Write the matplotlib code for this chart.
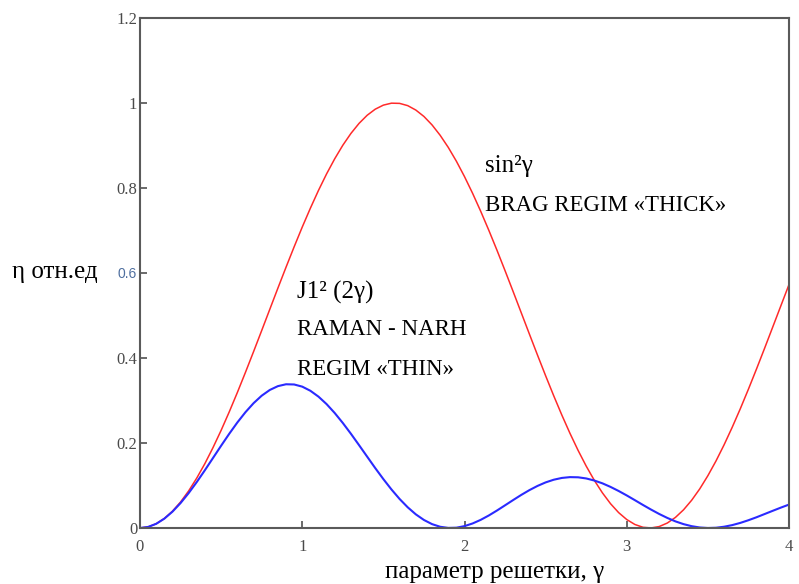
import matplotlib
matplotlib.use("Agg")
import matplotlib.pyplot as plt

# параметр решетки (gamma), шаг 0.05
gamma = [i * 0.05 for i in range(81)]

# sin^2(gamma) - Bragg regime
eta_bragg = [0.0000, 0.0025, 0.0100, 0.0223, 0.0395, 0.0612, 0.0873, 0.1176, 0.1516, 0.1892,
             0.2298, 0.2732, 0.3188, 0.3663, 0.4150, 0.4646, 0.5146, 0.5645, 0.6136, 0.6616,
             0.7081, 0.7524, 0.7943, 0.8332, 0.8687, 0.9006, 0.9284, 0.9520, 0.9711, 0.9855,
             0.9950, 0.9996, 0.9991, 0.9938, 0.9834, 0.9683, 0.9484, 0.9240, 0.8955, 0.8630,
             0.8268, 0.7874, 0.7451, 0.7004, 0.6537, 0.6054, 0.5561, 0.5062, 0.4563, 0.4068,
             0.3582, 0.3110, 0.2657, 0.2228, 0.1827, 0.1457, 0.1122, 0.0827, 0.0572, 0.0362,
             0.0199, 0.0083, 0.0017, 0.0001, 0.0034, 0.0117, 0.0249, 0.0428, 0.0653, 0.0921,
             0.1231, 0.1577, 0.1958, 0.2370, 0.2807, 0.3267, 0.3744, 0.4233, 0.4731, 0.5230,
             0.5728]

# J1^2(2 gamma) - Raman-Nath regime
eta_raman = [0.0000, 0.0025, 0.0099, 0.0220, 0.0384, 0.0587, 0.0822, 0.1082, 0.1360, 0.1648,
             0.1936, 0.2217, 0.2483, 0.2725, 0.2937, 0.3113, 0.3248, 0.3338, 0.3382, 0.3377,
             0.3326, 0.3229, 0.3091, 0.2915, 0.2706, 0.2471, 0.2217, 0.1950, 0.1679, 0.1409,
             0.1150, 0.0906, 0.0683, 0.0487, 0.0321, 0.0189, 0.0091, 0.0029, 0.0002, 0.0007,
             0.0044, 0.0107, 0.0192, 0.0295, 0.0411, 0.0534, 0.0658, 0.0779, 0.0891, 0.0990,
             0.1073, 0.1136, 0.1178, 0.1197, 0.1193, 0.1166, 0.1117, 0.1051, 0.0967, 0.0871,
             0.0766, 0.0655, 0.0542, 0.0433, 0.0330, 0.0237, 0.0156, 0.0091, 0.0043, 0.0012,
             0.0000, 0.0006, 0.0030, 0.0068, 0.0120, 0.0183, 0.0253, 0.0329, 0.0405, 0.0480,
             0.0551]

x_ticks = [0, 1, 2, 3, 4]
y_ticks = [0, 0.2, 0.4, 0.6, 0.8, 1.0, 1.2]
y_tick_labels = ["0", "0.2", "0.4", "0.6", "0.8", "1", "1.2"]

serif = ["Liberation Serif", "DejaVu Serif"]

fig = plt.figure(figsize=(7.99, 5.84), dpi=100)
ax = fig.add_axes([140 / 799, 1 - 528 / 584, 649 / 799, 510 / 584])

ax.plot(gamma, eta_bragg, color="#ff2a2a", lw=1.1)
ax.plot(gamma, eta_raman, color="#2a2aff", lw=1.5)

ax.set_xlim(0, 4)
ax.set_ylim(0, 1.2)
ax.set_xticks(x_ticks)
ax.set_xticklabels([str(t) for t in x_ticks])
ax.set_yticks(y_ticks)
ax.set_yticklabels(y_tick_labels)

for s in ax.spines.values():
    s.set_color("#5a5a5a")
    s.set_linewidth(1.5)
ax.tick_params(direction="in", length=5, width=1.2, color="#505050",
               labelcolor="#4a4a4a", labelsize=12)
ax.tick_params(axis="x", pad=8)
ax.tick_params(axis="y", pad=2)
for lbl in ax.get_xticklabels() + ax.get_yticklabels():
    lbl.set_fontfamily(serif)
# метка 0.6 на оригинале другим шрифтом
lab06 = ax.get_yticklabels()[3]
lab06.set_fontfamily("Liberation Sans")
lab06.set_fontsize(10)
lab06.set_color("#4f6f9f")

ax.text(0.968, 0.555, "J1² (2γ)", fontsize=18, family=serif, va="center")
ax.text(0.968, 0.466, "RAMAN - NARH", fontsize=16.5, family=serif, va="center")
ax.text(0.968, 0.374, "REGIM «THIN»", fontsize=16.5, family=serif, va="center")
ax.text(2.126, 0.852, "sin²γ", fontsize=18, family=serif, va="center")
ax.text(2.126, 0.758, "BRAG REGIM «THICK»", fontsize=16.5, family=serif, va="center")

fig.text(495 / 799, 1 - 572 / 584, "параметр решетки, γ", fontsize=18,
         family=serif, ha="center", va="center")
fig.text(12 / 799, 1 - 272 / 584, "η отн.ед", fontsize=18,
         family=serif, ha="left", va="center")

fig.savefig("out.png", dpi=100)
